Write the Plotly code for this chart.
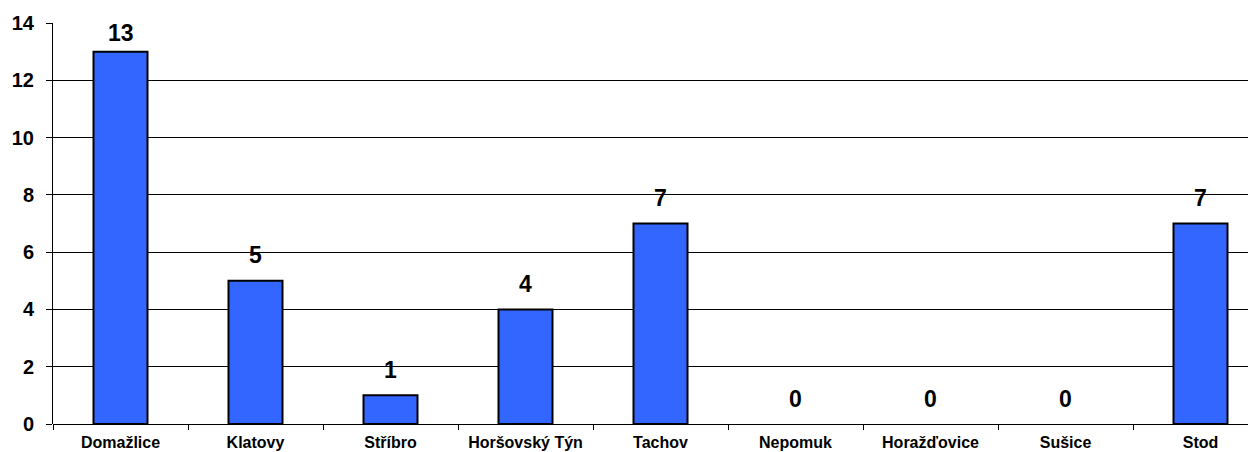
import plotly.graph_objects as go

categories = ["Domažlice", "Klatovy", "Stříbro", "Horšovský Týn", "Tachov",
              "Nepomuk", "Horažďovice", "Sušice", "Stod"]
values = [13, 5, 1, 4, 7, 0, 0, 0, 7]
y_ticks = [0, 2, 4, 6, 8, 10, 12, 14]

# page body has an 8px default margin; compensate so the plot sits where intended
OFF = 8
W, H = 1256 - OFF, 452 - OFF
ML, MR, MT, MB = 53 - OFF, 0, 23 - OFF, 28
plot_h = H - MT - MB
ymax = 14
ppu = plot_h / ymax
font = "Arial, Liberation Sans, sans-serif"

fig = go.Figure()
fig.add_trace(go.Bar(
    x=categories, y=values, width=0.4,
    marker=dict(color="#3366FF",
                line=dict(color="#000000", width=[2 if v > 0 else 0 for v in values])),
    hoverinfo="x+y",
))

annotations = []
for c, v in zip(categories, values):
    gap = min(16.5, (ymax - v) * ppu - 15.5 - 3.4)
    annotations.append(dict(
        x=c, y=v, xref="x", yref="y", text=str(v), showarrow=False,
        yanchor="bottom", yshift=gap - 6,
        font=dict(family=font, size=23, color="#000000", weight="bold"),
    ))

fig.update_layout(
    width=W, height=H,
    margin=dict(l=ML, r=MR, t=MT, b=MB, pad=0, autoexpand=False),
    paper_bgcolor="white", plot_bgcolor="white",
    showlegend=False, bargap=0.6,
    annotations=annotations,
    font=dict(family=font, color="#000000"),
    xaxis=dict(
        type="category", range=[-0.5, -0.5 + (W - ML - MR) / 135.0],
        tickson="boundaries", ticks="outside", ticklen=5, tickcolor="#000000",
        showline=False, showgrid=False, zeroline=False, automargin=False,
        tickfont=dict(family=font, size=16, color="#000000", weight="bold"),
        ticklabelstandoff=7,
    ),
    yaxis=dict(
        range=[0, ymax], tickvals=y_ticks, ticktext=[str(t) for t in y_ticks],
        ticks="outside", ticklen=6, tickcolor="#000000",
        showline=True, linecolor="#000000", linewidth=1,
        showgrid=True, gridcolor="#000000", gridwidth=1,
        zeroline=True, zerolinecolor="#000000", zerolinewidth=1,
        automargin=False,
        tickfont=dict(family=font, size=20, color="#000000", weight="bold"),
        ticklabelstandoff=8,
    ),
)

fig.write_html("out.html")
